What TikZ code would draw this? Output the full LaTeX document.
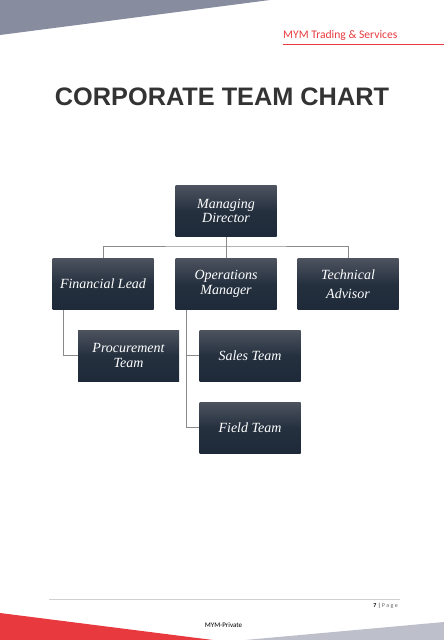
\documentclass[tikz,border=0pt]{standalone}
\usepackage{fontspec}
\setmainfont{Liberation Serif}
\newfontfamily\hdfont{Carlito}
\newfontfamily\ttlfont{Liberation Sans}
\definecolor{topgray}{HTML}{878C9E}
\definecolor{botgray}{HTML}{BDC0CA}
\definecolor{brandred}{HTML}{E83A3E}
\definecolor{boxtop}{HTML}{4D535F}
\definecolor{boxbot}{HTML}{1E2A39}
\definecolor{linegray}{HTML}{8A8A8A}
\tikzset{
  x=1pt, y=-1pt,
  rolebox/.style={minimum width=101pt, minimum height=51pt, inner sep=2pt,
    top color=boxtop, bottom color=boxbot, middle color=boxbot!85!boxtop,
    shading angle=0, align=center, text=white,
    font=\itshape\fontsize{14}{14.5}\selectfont},
  link/.style={draw=linegray, line width=0.8pt}
}
\begin{document}
\begin{tikzpicture}
\useasboundingbox (0,0) rectangle (444,640);
% decorative shapes
\fill[topgray] (0,0) -- (270,0) -- (0,35) -- cycle;
\fill[brandred] (0,613) -- (213,640) -- (0,640) -- cycle;
\fill[botgray] (245,640) -- (444,622) -- (444,640) -- cycle;
% header
\node[anchor=base west, text=brandred, font=\hdfont\fontsize{11.6}{11.6}\selectfont, inner sep=0] (hdr) at (283,38) {MYM Trading \& Services};
\draw[brandred, line width=0.6pt] (283,44) -- (444,44);
% title
\node[font=\ttlfont\bfseries\fontsize{25.3}{25.3}\selectfont, text=black!80, inner sep=0] (title) at (222,97) {CORPORATE TEAM CHART};
% boxes
\node[rolebox] (md) at (226,211) {Managing\\Director};
\node[rolebox] (fl) at (103,284) {Financial Lead};
\node[rolebox] (om) at (226,284) {Operations\\Manager};
\node[rolebox] (ta) at (348,284) {Technical\\[4pt]Advisor};
\node[rolebox] (pt) at (128.5,355.5) {Procurement\\Team};
\node[rolebox] (st) at (250,355.5) {Sales Team};
\node[rolebox] (ft) at (250,427.5) {Field Team};
% connectors
\coordinate (bus) at (226,246);
\draw[link] (md.south) -- (bus);
\draw[link] (fl.north) |- (bus) -| (ta.north);
\draw[link] (bus) -- (om.north);
\coordinate (fltap) at (63,310);
\coordinate (omtap) at (186,310);
\draw[link] (fltap) |- (pt.west);
\draw[link] (omtap) |- (st.west);
\draw[link] (omtap) |- (ft.west);
% footer
\draw[black!18, line width=0.6pt] (49,599) -- (400,599);
\node[anchor=base east, font=\hdfont\fontsize{6}{6}\selectfont, inner sep=0] (pg) at (398,607) {\textbf{7} | \textcolor{black!60}{P a g e}};
\node[font=\hdfont\fontsize{7}{7}\selectfont, inner sep=0] (priv) at (223.5,625) {MYM-Private};
\end{tikzpicture}
\end{document}
